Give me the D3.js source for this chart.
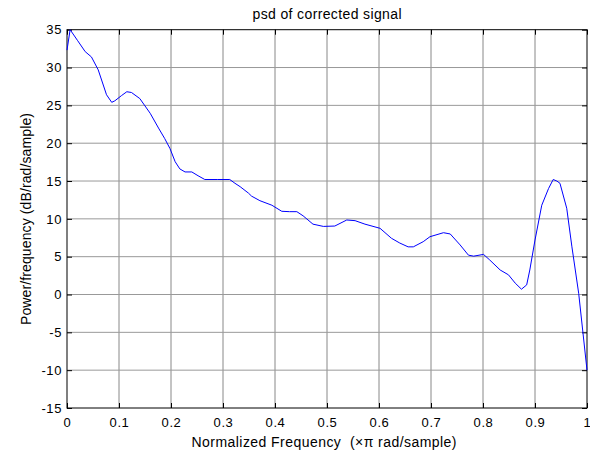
<!DOCTYPE html>
<html>
<head>
<meta charset="utf-8">
<script src="https://cdn.jsdelivr.net/npm/d3@7"></script>
<style>
  body { margin: 0; background: #fff; }
  svg { font-family: "Liberation Sans", Arial, sans-serif; }
</style>
</head>
<body>
<svg id="chart" width="590" height="452"></svg>
<script>
// values
const freq = [0, 0.006, 0.02, 0.035, 0.047, 0.06, 0.076, 0.086, 0.092, 0.105, 0.115, 0.124, 0.14, 0.16, 0.176,
  0.188, 0.198, 0.208, 0.217, 0.227, 0.24, 0.252, 0.265, 0.29, 0.313, 0.323, 0.333, 0.349, 0.355, 0.371,
  0.394, 0.413, 0.428, 0.442, 0.454, 0.473, 0.493, 0.515, 0.538, 0.554, 0.573, 0.602, 0.624, 0.64, 0.656,
  0.666, 0.685, 0.698, 0.724, 0.737, 0.756, 0.772, 0.782, 0.801, 0.813, 0.833, 0.849, 0.862, 0.874, 0.884,
  0.89, 0.9, 0.913, 0.926, 0.935, 0.942, 0.948, 0.961, 0.971, 0.984, 1.0];
const psd = [32.3, 35.0, 33.6, 32.1, 31.4, 29.7, 26.4, 25.4, 25.6, 26.3, 26.8, 26.7, 25.9, 23.95, 22.0,
  20.6, 19.3, 17.55, 16.6, 16.2, 16.2, 15.7, 15.2, 15.2, 15.2, 14.7, 14.25, 13.4, 13.0, 12.4,
  11.8, 11.0, 10.95, 10.95, 10.4, 9.3, 9.0, 9.05, 9.85, 9.76, 9.3, 8.75, 7.43, 6.8, 6.3,
  6.3, 6.98, 7.64, 8.17, 8.0, 6.55, 5.2, 5.07, 5.3, 4.56, 3.24, 2.6, 1.5, 0.7, 1.27,
  3.24, 7.2, 11.8, 14.0, 15.2, 15.0, 14.7, 11.4, 6.3, 0.16, -10.0];
const xTicks = [0, 0.1, 0.2, 0.3, 0.4, 0.5, 0.6, 0.7, 0.8, 0.9, 1];
const yTicks = [-15, -10, -5, 0, 5, 10, 15, 20, 25, 30, 35];

const plotLeft = 67, plotRight = 587, plotTop = 29.7, plotBottom = 408;
const svg = d3.select('#chart');

const x = d3.scaleLinear().domain([0, 1]).range([plotLeft, plotRight]);
const y = d3.scaleLinear().domain([-15, 35]).range([plotBottom, plotTop]);

// grid
svg.append('g')
  .selectAll('line')
  .data(xTicks.slice(1, -1))
  .enter().append('line')
  .attr('x1', d => x(d)).attr('x2', d => x(d))
  .attr('y1', plotTop).attr('y2', plotBottom)
  .attr('stroke', '#888').attr('stroke-width', 1);
svg.append('g')
  .selectAll('line')
  .data(yTicks.slice(1, -1))
  .enter().append('line')
  .attr('x1', plotLeft).attr('x2', plotRight)
  .attr('y1', d => y(d)).attr('y2', d => y(d))
  .attr('stroke', '#999').attr('stroke-width', 1);

// axes, ticks inside like matlab
const fmt = d => String(d);
const styleAxis = g => {
  g.select('.domain').remove();
  g.selectAll('.tick line').attr('stroke', '#000');
  g.selectAll('.tick text').attr('fill', '#000')
    .style('font-size', '13px')
    .style('letter-spacing', '0.6px');
};
svg.append('g')
  .attr('transform', `translate(0,${plotBottom})`)
  .call(d3.axisBottom(x).tickValues(xTicks).tickFormat(fmt).tickSizeInner(-5).tickPadding(9.5))
  .call(styleAxis);
svg.append('g')
  .attr('transform', `translate(0,${plotTop})`)
  .call(d3.axisTop(x).tickValues(xTicks).tickFormat('').tickSizeInner(-5))
  .call(styleAxis);
svg.append('g')
  .attr('transform', `translate(${plotLeft},0)`)
  .call(d3.axisLeft(y).tickValues(yTicks).tickFormat(fmt).tickSizeInner(-5).tickPadding(5))
  .call(styleAxis);
svg.append('g')
  .attr('transform', `translate(${plotRight},0)`)
  .call(d3.axisRight(y).tickValues(yTicks).tickFormat('').tickSizeInner(-5))
  .call(styleAxis);

svg.append('rect')
  .attr('x', plotLeft).attr('y', plotTop)
  .attr('width', plotRight - plotLeft).attr('height', plotBottom - plotTop)
  .attr('fill', 'none').attr('stroke', '#000').attr('stroke-width', 1);

// the psd curve
const line = d3.line()
  .x((d, i) => x(freq[i]))
  .y(d => y(d));
svg.append('path')
  .datum(psd)
  .attr('d', line)
  .attr('fill', 'none')
  .attr('stroke', '#0000ff')
  .attr('stroke-width', 1);

// labels
svg.append('text')
  .attr('x', 327).attr('y', 19)
  .attr('text-anchor', 'middle')
  .attr('textLength', 149).attr('lengthAdjust', 'spacing')
  .style('font-size', '14px')
  .text('psd of corrected signal');
svg.append('text')
  .attr('x', 324).attr('y', 446.5)
  .attr('text-anchor', 'middle')
  .attr('textLength', 265).attr('lengthAdjust', 'spacing')
  .style('font-size', '14px')
  .style('white-space', 'pre')
  .text('Normalized Frequency  (\u00d7\u03c0 rad/sample)');
svg.append('text')
  .attr('transform', `translate(31,219) rotate(-90)`)
  .attr('text-anchor', 'middle')
  .attr('textLength', 212).attr('lengthAdjust', 'spacing')
  .style('font-size', '14px')
  .text('Power/frequency (dB/rad/sample)');
</script>
</body>
</html>
